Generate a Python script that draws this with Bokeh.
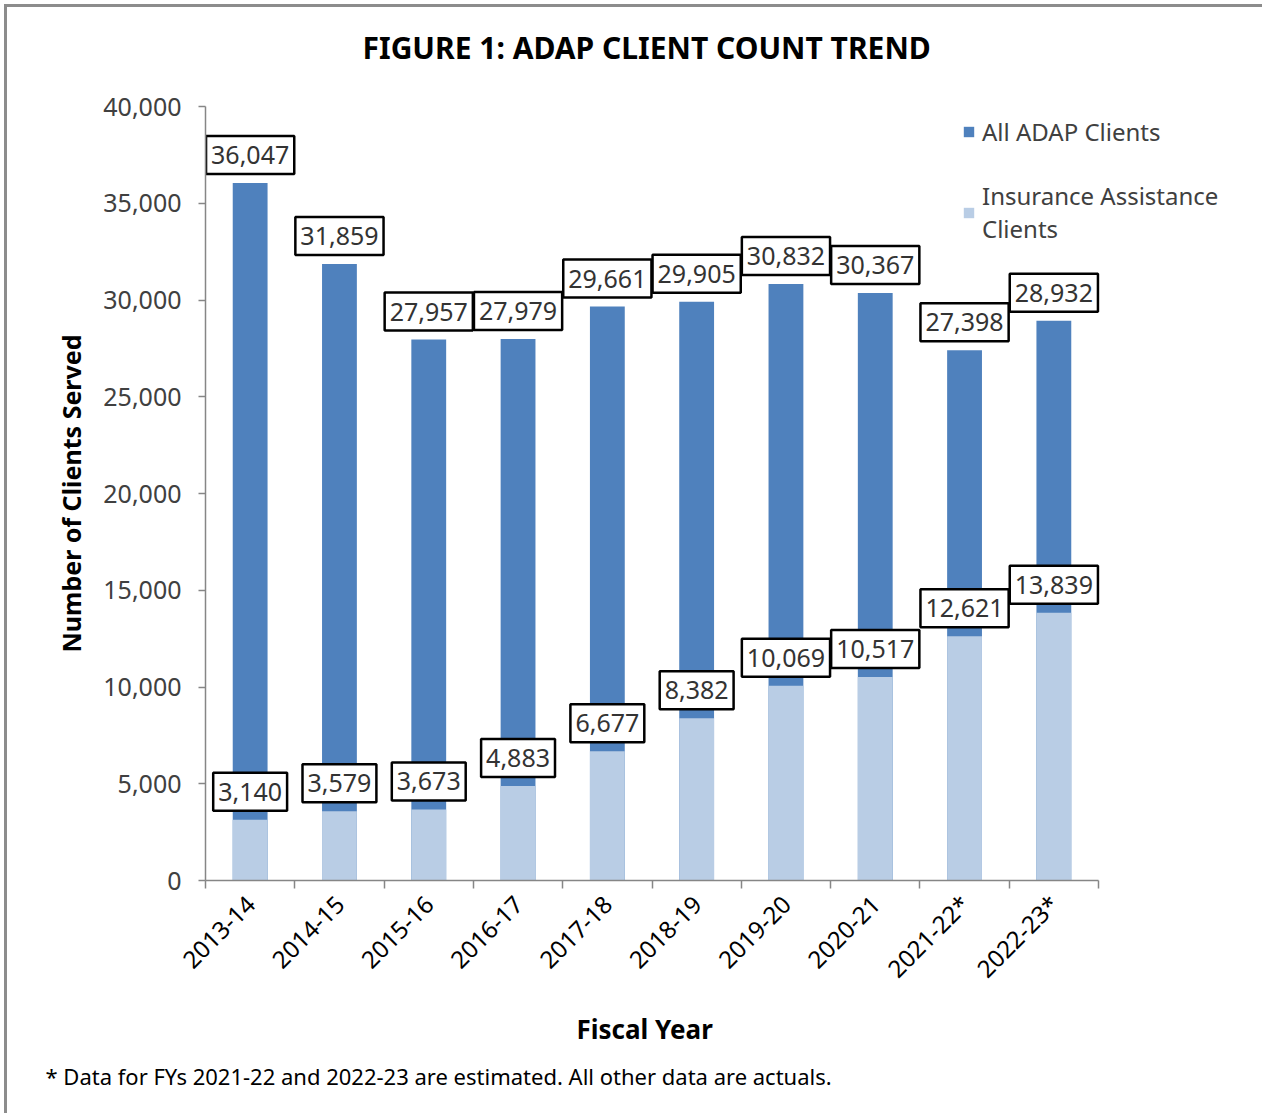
import math
from bokeh.plotting import figure
from bokeh.models import (Range1d, FixedTicker, NumeralTickFormatter, Legend, LegendItem, Title)
from bokeh.core.properties import value
from bokeh.embed import file_html
from bokeh.resources import INLINE

# ---- data ----
fiscal_years = ["2013-14", "2014-15", "2015-16", "2016-17", "2017-18",
                "2018-19", "2019-20", "2020-21", "2021-22*", "2022-23*"]
all_clients = [36047, 31859, 27957, 27979, 29661, 29905, 30832, 30367, 27398, 28932]
insurance_clients = [3140, 3579, 3673, 4883, 6677, 8382, 10069, 10517, 12621, 13839]
y_ticks = [0, 5000, 10000, 15000, 20000, 25000, 30000, 35000, 40000]

FONT = "Noto Sans"
DARK = "#4F81BD"
LIGHT = "#B9CDE5"
AXIS = "#868686"
TXT = "#404040"

n = len(fiscal_years)
xs = [i + 1 for i in range(n)]
bounds = [i + 0.5 for i in range(n + 1)]

# layout (pixels)
frame_left, frame_right_px, axis_end_px = 198, 1233, 1091   # canvas coords
cat_px = (axis_end_px - frame_left) / n
x_end = 0.5 + (frame_right_px - frame_left) / cat_px

p = figure(width=1258, height=1109, output_backend="svg", toolbar_location=None,
           x_range=Range1d(0.5, x_end), y_range=Range1d(0, 40000),
           min_border_left=frame_left, min_border_right=1258 - frame_right_px,
           min_border_top=99, min_border_bottom=236,
           background_fill_color="white", border_fill_color="white", outline_line_color=None,
           styles={"border-top": "3px solid #8c8c8c", "border-left": "3px solid #8c8c8c",
                   "margin-top": "4px", "margin-left": "4px"})

p.xgrid.visible = False
p.ygrid.visible = False

r_all = p.vbar(x=xs, top=all_clients, width=0.39, fill_color=DARK, line_color=None)
r_ins = p.vbar(x=xs, top=insurance_clients, width=0.39, fill_color=LIGHT, line_color=None)

lbl_common = dict(text_align="center", text_baseline="bottom", y_offset=-9,
                  text_font=value(FONT), text_font_size="25px", text_color="#333333",
                  background_fill_color="white", border_line_color="black",
                  border_line_width=2.5, padding=(5, 10))
p.text(x=xs, y=all_clients, text=[f"{v:,}" for v in all_clients], **lbl_common)
p.text(x=xs, y=insurance_clients, text=[f"{v:,}" for v in insurance_clients], **lbl_common)

# title: real title (outer) + spacer title next to the frame
p.title.text = "FIGURE 1: ADAP CLIENT COUNT TREND"
p.title.align = "left"
p.title.offset = 157
p.title.text_font = FONT
p.title.text_font_size = "30px"
p.title.text_font_style = "bold"
p.title.text_color = "black"
p.title.standoff = 0
p.title.vertical_align = "bottom"
spacer = Title(text=" ", text_font_size="1px", standoff=36)
p.add_layout(spacer, "above")

# y axis
ya = p.yaxis[0]
ya.ticker = FixedTicker(ticks=y_ticks)
ya.formatter = NumeralTickFormatter(format="0,0")
ya.axis_line_color = AXIS
ya.axis_line_width = 1.5
ya.major_tick_line_color = AXIS
ya.major_tick_line_width = 1.5
ya.major_tick_out = 7
ya.major_tick_in = 0
ya.minor_tick_line_color = None
ya.major_label_text_font = FONT
ya.major_label_text_font_size = "25px"
ya.major_label_text_color = TXT
ya.major_label_standoff = 17
ya.axis_label = "Number of Clients Served"
ya.axis_label_text_font = FONT
ya.axis_label_text_font_size = "25px"
ya.axis_label_text_font_style = "bold"
ya.axis_label_text_color = "black"
ya.axis_label_standoff = 12

# x axis
xa = p.xaxis[0]
xa.bounds = (bounds[0], bounds[-1])
xa.ticker = FixedTicker(ticks=xs, minor_ticks=bounds)
xa.major_label_overrides = {x: fy for x, fy in zip(xs, fiscal_years)}
xa.major_label_orientation = math.pi / 4
xa.axis_line_color = AXIS
xa.axis_line_width = 1.5
xa.major_tick_line_color = None
xa.major_tick_out = 0
xa.major_tick_in = 0
xa.minor_tick_line_color = AXIS
xa.minor_tick_line_width = 1.5
xa.minor_tick_out = 8
xa.minor_tick_in = 0
xa.major_label_text_font = FONT
xa.major_label_text_font_size = "24px"
xa.major_label_text_color = "black"
xa.major_label_standoff = 11

fy_title = Title(text="Fiscal Year", align="left", offset=371, text_font=FONT,
                 text_font_size="26px", text_font_style="bold", text_color="black", standoff=21)
p.add_layout(fy_title, "below")

# footnote
foot = Title(text="* Data for FYs 2021-22 and 2022-23 are estimated. All other data are actuals.",
             align="left", offset=-160, text_font=FONT, text_font_size="22px",
             text_font_style="normal", text_color="black", standoff=2)
p.add_layout(foot, "below")

# legend
legend = Legend(items=[LegendItem(label="All ADAP Clients", renderers=[r_all]),
                       LegendItem(label="Insurance Assistance\nClients", renderers=[r_ins])],
                location=(757, 635), orientation="vertical",
                label_text_font=FONT, label_text_font_size="24px", label_text_color=TXT,
                label_text_line_height=0.9,
                glyph_width=13, glyph_height=13, label_standoff=7, spacing=31,
                padding=0, margin=0, border_line_color=None, background_fill_alpha=0)
p.add_layout(legend, "center")

open("out.html", "w").write(file_html(p, INLINE))
